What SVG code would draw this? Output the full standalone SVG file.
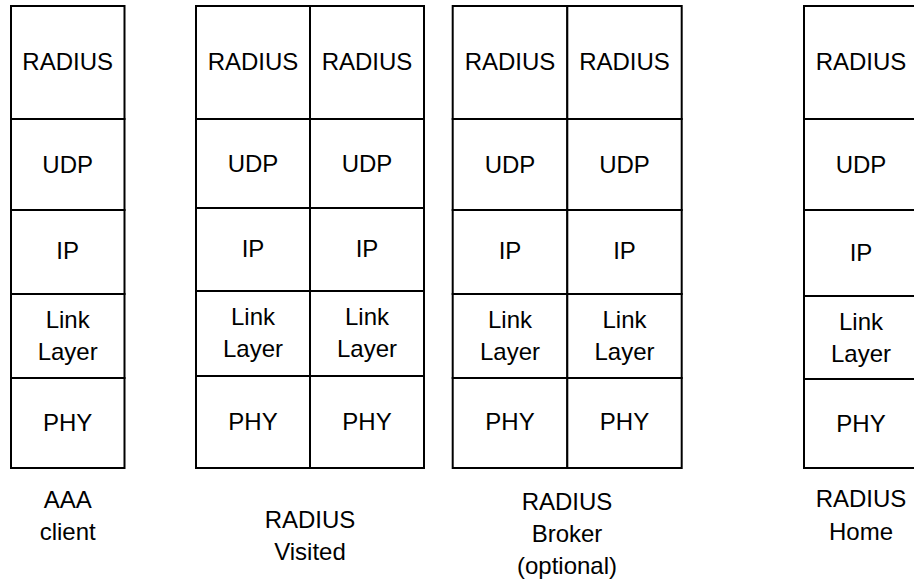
<svg xmlns="http://www.w3.org/2000/svg" width="914" height="579" viewBox="0 0 914 579">
<style>
.cell{fill:#fff;stroke:#000;stroke-width:2}
.t{font-family:"Liberation Sans",Arial,sans-serif;font-size:24px;fill:#000;text-anchor:middle}
</style>
<rect x="0" y="0" width="914" height="579" fill="#fff"/>
<g id="aaa-client">
<rect class="cell" x="11" y="6" width="113.5" height="113"/>
<rect class="cell" x="11" y="119" width="113.5" height="91"/>
<rect class="cell" x="11" y="210" width="113.5" height="84"/>
<rect class="cell" x="11" y="294" width="113.5" height="84"/>
<rect class="cell" x="11" y="378" width="113.5" height="90"/>
<text class="t" x="67.7" y="70">RADIUS</text>
<text class="t" x="67.7" y="173">UDP</text>
<text class="t" x="67.7" y="259">IP</text>
<text class="t" x="67.7" y="328">Link</text>
<text class="t" x="67.7" y="360">Layer</text>
<text class="t" x="67.7" y="431">PHY</text>
<text class="t" x="67.7" y="508">AAA</text>
<text class="t" x="67.7" y="540">client</text>
</g>
<g id="radius-visited">
<rect class="cell" x="196" y="6" width="114" height="113"/>
<rect class="cell" x="196" y="119" width="114" height="89"/>
<rect class="cell" x="196" y="208" width="114" height="83"/>
<rect class="cell" x="196" y="291" width="114" height="85"/>
<rect class="cell" x="196" y="376" width="114" height="92"/>
<rect class="cell" x="310" y="6" width="114" height="113"/>
<rect class="cell" x="310" y="119" width="114" height="89"/>
<rect class="cell" x="310" y="208" width="114" height="83"/>
<rect class="cell" x="310" y="291" width="114" height="85"/>
<rect class="cell" x="310" y="376" width="114" height="92"/>
<text class="t" x="253" y="70">RADIUS</text>
<text class="t" x="253" y="171.5">UDP</text>
<text class="t" x="253" y="257">IP</text>
<text class="t" x="253" y="325">Link</text>
<text class="t" x="253" y="357">Layer</text>
<text class="t" x="253" y="430">PHY</text>
<text class="t" x="367" y="70">RADIUS</text>
<text class="t" x="367" y="171.5">UDP</text>
<text class="t" x="367" y="257">IP</text>
<text class="t" x="367" y="325">Link</text>
<text class="t" x="367" y="357">Layer</text>
<text class="t" x="367" y="430">PHY</text>
<text class="t" x="310" y="528">RADIUS</text>
<text class="t" x="310" y="560">Visited</text>
</g>
<g id="radius-broker">
<rect class="cell" x="452.7" y="6" width="114.6" height="113"/>
<rect class="cell" x="452.7" y="119" width="114.6" height="91"/>
<rect class="cell" x="452.7" y="210" width="114.6" height="84"/>
<rect class="cell" x="452.7" y="294" width="114.6" height="84"/>
<rect class="cell" x="452.7" y="378" width="114.6" height="90"/>
<rect class="cell" x="567.3" y="6" width="114.4" height="113"/>
<rect class="cell" x="567.3" y="119" width="114.4" height="91"/>
<rect class="cell" x="567.3" y="210" width="114.4" height="84"/>
<rect class="cell" x="567.3" y="294" width="114.4" height="84"/>
<rect class="cell" x="567.3" y="378" width="114.4" height="90"/>
<text class="t" x="510" y="70">RADIUS</text>
<text class="t" x="510" y="173">UDP</text>
<text class="t" x="510" y="259">IP</text>
<text class="t" x="510" y="328">Link</text>
<text class="t" x="510" y="360">Layer</text>
<text class="t" x="510" y="430">PHY</text>
<text class="t" x="624.5" y="70">RADIUS</text>
<text class="t" x="624.5" y="173">UDP</text>
<text class="t" x="624.5" y="259">IP</text>
<text class="t" x="624.5" y="328">Link</text>
<text class="t" x="624.5" y="360">Layer</text>
<text class="t" x="624.5" y="430">PHY</text>
<text class="t" x="567" y="510">RADIUS</text>
<text class="t" x="567" y="542">Broker</text>
<text class="t" x="567" y="574">(optional)</text>
</g>
<g id="radius-home">
<rect class="cell" x="804" y="6" width="114" height="113"/>
<rect class="cell" x="804" y="119" width="114" height="91"/>
<rect class="cell" x="804" y="210" width="114" height="86"/>
<rect class="cell" x="804" y="296" width="114" height="83"/>
<rect class="cell" x="804" y="379" width="114" height="89"/>
<text class="t" x="861" y="70">RADIUS</text>
<text class="t" x="861" y="173">UDP</text>
<text class="t" x="861" y="261">IP</text>
<text class="t" x="861" y="330">Link</text>
<text class="t" x="861" y="361.5">Layer</text>
<text class="t" x="861" y="431.5">PHY</text>
<text class="t" x="861" y="507">RADIUS</text>
<text class="t" x="861" y="540">Home</text>
</g>
<g id="connectors"/>
</svg>
